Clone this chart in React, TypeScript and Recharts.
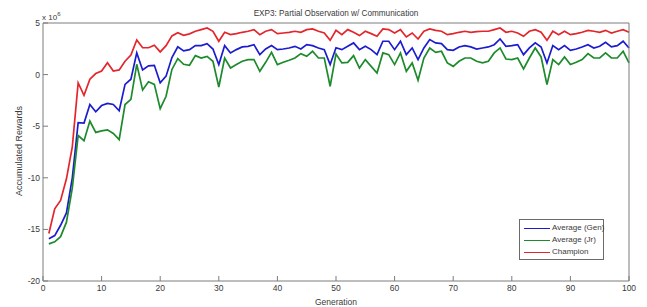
import React from 'react';
import { LineChart, Line, XAxis, YAxis, Legend } from 'recharts';

// values in units of 1e6
const generations = Array.from({ length: 100 }, (_, i) => i + 1);

const avgGen = [
  -15.9, -15.6, -14.6, -13.4, -10.0, -4.65, -4.7, -2.9, -3.6, -3.0,
  -2.8, -2.9, -3.5, -0.95, -0.45, 2.1, 0.45, 0.85, 0.9, -0.8,
  -0.15, 1.65, 2.7, 2.3, 2.42, 2.81, 2.81, 3.0, 2.48, 0.97,
  2.81, 2.1, 2.42, 2.68, 2.74, 2.9, 1.93, 2.48, 2.81, 2.42,
  2.48, 2.58, 2.74, 2.48, 2.9, 2.81, 2.58, 2.42, 0.97, 2.6,
  2.42, 2.74, 3.07, 2.42, 2.74, 2.42, 1.93, 3.23, 3.23, 2.42,
  3.23, 1.93, 2.58, 1.45, 2.58, 3.39, 3.07, 3.0, 2.42, 2.35,
  2.68, 2.81, 2.68, 2.48, 2.58, 2.68, 2.9, 3.45, 2.74, 2.81,
  2.9, 1.93, 2.58, 3.07, 2.68, 1.13, 2.81, 2.42, 2.81, 2.35,
  2.48, 2.68, 2.9, 2.58, 2.74, 3.13, 2.68, 2.81, 3.23, 2.58,
];

const avgJr = [
  -16.4, -16.2, -15.7, -14.3, -11.0, -5.9, -6.4, -4.5, -5.6, -5.45,
  -5.35, -5.7, -6.3, -2.9, -2.4, 1.0, -1.5, -0.7, -0.95, -3.3,
  -2.1, 0.5, 1.55, 1.0, 0.9, 1.84, 1.61, 1.77, 1.29, -1.2,
  1.61, 0.64, 0.97, 1.29, 1.45, 1.45, 0.32, 1.19, 2.16, 0.97,
  1.19, 1.39, 1.61, 2.03, 1.77, 2.26, 1.61, 1.61, -1.13, 2.0,
  1.13, 1.19, 1.84, 0.64, 1.45, 0.8, 0.16, 2.1, 1.93, 0.97,
  2.1, 0.32, 1.13, -0.55, 1.61, 2.58, 2.16, 2.26, 1.13, 0.8,
  1.29, 1.61, 1.61, 1.29, 1.13, 1.29, 2.1, 2.58, 1.51, 1.45,
  1.61, 0.55, 1.61, 2.58, 1.71, -0.97, 1.45, 0.97, 1.71, 0.97,
  1.19, 1.45, 2.03, 1.61, 1.61, 2.1, 1.61, 1.61, 2.26, 1.13,
];

const champion = [
  -15.4, -13.0, -12.2, -10.1, -7.0, -0.8, -2.0, -0.45, 0.1, 0.35,
  1.15, 0.35, 0.45, 1.3, 1.9, 3.35, 2.6, 2.6, 2.85, 2.2,
  2.8, 3.75, 4.05, 3.8, 3.95, 4.2, 4.36, 4.52, 4.2, 3.23,
  4.1, 3.87, 3.97, 4.1, 4.2, 4.36, 3.87, 4.2, 4.36, 3.97,
  4.03, 4.1, 4.2, 4.1, 4.36, 4.42, 4.2, 4.03, 3.32, 4.29,
  3.87, 4.36, 4.1, 3.78, 4.2, 3.97, 3.71, 4.42, 4.36, 4.03,
  4.36, 3.65, 4.03, 3.45, 4.2, 4.42, 4.29, 4.2, 3.87, 3.97,
  4.1, 4.2, 4.1, 4.16, 4.2, 4.2, 4.36, 4.52, 4.1, 4.2,
  4.03, 3.71, 4.2, 4.36, 4.1, 3.32, 4.2, 3.87, 4.2, 3.87,
  3.97, 4.1, 4.29, 4.2, 4.1, 4.29, 4.03, 4.2, 4.36, 4.1,
];

const xTicks = [0, 10, 20, 30, 40, 50, 60, 70, 80, 90, 100];
const yTicks = [-20, -15, -10, -5, 0, 5];

const chartData = generations.map((g, i) => ({
  gen: g,
  avgGen: avgGen[i],
  avgJr: avgJr[i],
  champion: champion[i],
}));

const FONT = 'Arial, "Liberation Sans", sans-serif';
const AXIS_COLOR = '#7c7c7c';
const TEXT_COLOR = '#3a3a3a';

const LegendBox = ({ payload }: any) => (
  <div style={{ border: '1px solid #6a6a6a', background: '#fff', padding: '2px 2px 1px 4px', width: 85, boxSizing: 'border-box' }}>
    {(payload || []).map((p: any) => (
      <div key={p.value} style={{ display: 'flex', alignItems: 'center', height: 12, fontSize: 8, color: TEXT_COLOR, whiteSpace: 'nowrap', lineHeight: 1 }}>
        <span style={{ display: 'inline-block', flex: 'none', width: 26, height: 0, borderTop: `1.5px solid ${p.color}`, marginRight: 2 }} />
        {p.value}
      </div>
    ))}
  </div>
);

export default function App() {
  return (
    <div style={{ position: 'relative', width: 639, height: 299, fontFamily: FONT, background: '#fff' }}>
      <div style={{ position: 'absolute', left: 328, top: 5, transform: 'translate(-50%, -50%)', fontSize: 8.2, color: TEXT_COLOR, whiteSpace: 'nowrap' }}>
        EXP3: Partial Observation w/ Communication
      </div>
      <div style={{ position: 'absolute', left: 34, top: 3, fontSize: 8, color: TEXT_COLOR, whiteSpace: 'nowrap' }}>
        x 10<sup style={{ fontSize: 6 }}>6</sup>
      </div>
      <div style={{ position: 'absolute', left: 11, top: 143, transform: 'translate(-50%, -50%) rotate(-90deg)', fontSize: 9, color: TEXT_COLOR, whiteSpace: 'nowrap' }}>
        Accumulated Rewards
      </div>
      <LineChart width={639} height={299} data={chartData} margin={{ top: 14, right: 17, bottom: 0, left: 0 }}>
        <XAxis dataKey="gen" type="number" domain={[0, 100]} ticks={xTicks} height={26}
          stroke={AXIS_COLOR} tickSize={-5} tickMargin={9}
          tick={{ fill: TEXT_COLOR, fontSize: 8.5, fontFamily: FONT }}
          label={{ value: 'Generation', position: 'insideBottom', offset: 2, fill: TEXT_COLOR, fontSize: 8.5, fontFamily: FONT }} />
        <XAxis xAxisId="top" orientation="top" dataKey="gen" type="number" domain={[0, 100]} ticks={xTicks} height={1}
          stroke={AXIS_COLOR} tickSize={-5} tick={false} />
        <YAxis type="number" domain={[-20, 5]} ticks={yTicks} width={35} stroke={AXIS_COLOR}
          tickSize={-5} tickMargin={8} tick={{ fill: TEXT_COLOR, fontSize: 8.5, fontFamily: FONT }} />
        <YAxis yAxisId="right" orientation="right" type="number" domain={[-20, 5]} ticks={yTicks} width={1}
          stroke={AXIS_COLOR} tickSize={-5} tick={false} />
        <Legend content={<LegendBox />} layout="horizontal" verticalAlign="middle" align="center"
          wrapperStyle={{ position: 'absolute', left: 511, top: 211, width: 85 }} />
        <Line type="linear" dataKey="avgGen" name="Average (Gen)" stroke="#1c1ccf" strokeWidth={1.7} dot={false} isAnimationActive={false} />
        <Line type="linear" dataKey="avgJr" name="Average (Jr)" stroke="#1d8a2b" strokeWidth={1.7} dot={false} isAnimationActive={false} />
        <Line type="linear" dataKey="champion" name="Champion" stroke="#e3262c" strokeWidth={1.7} dot={false} isAnimationActive={false} />
      </LineChart>
    </div>
  );
}
